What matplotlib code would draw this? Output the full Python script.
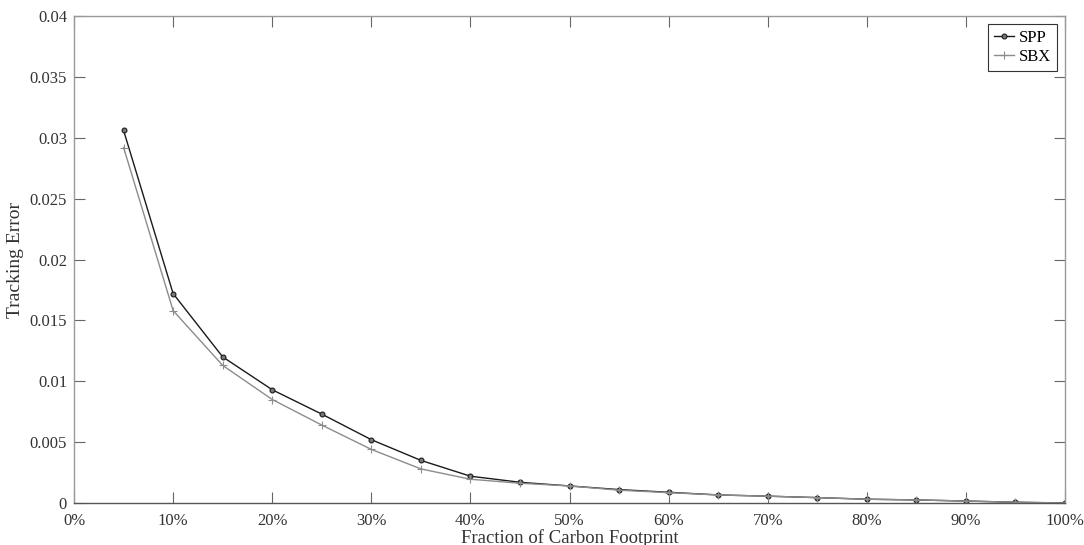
import matplotlib
matplotlib.use('Agg')
import matplotlib.pyplot as plt
from matplotlib.ticker import FuncFormatter

plt.rcParams['font.family'] = ['Liberation Serif', 'DejaVu Serif']

fraction = [0.05, 0.10, 0.15, 0.20, 0.25, 0.30, 0.35, 0.40, 0.45, 0.50,
            0.55, 0.60, 0.65, 0.70, 0.75, 0.80, 0.85, 0.90, 0.95, 1.00]
spp = [0.0306, 0.0172, 0.0120, 0.0093, 0.0073, 0.0052, 0.0035, 0.0022, 0.0017, 0.0014,
       0.0011, 0.00088, 0.00066, 0.00056, 0.00044, 0.00031, 0.00025, 0.00016, 0.00006, 0.0]
sbx = [0.0292, 0.0158, 0.0113, 0.0085, 0.0064, 0.0044, 0.0028, 0.00195, 0.00162, 0.0014,
       0.00105, 0.00085, 0.00066, 0.00056, 0.00044, 0.00031, 0.00025, 0.00016, 0.00006, 0.0]
y_ticks = [0, 0.005, 0.01, 0.015, 0.02, 0.025, 0.03, 0.035, 0.04]
x_ticks = [0, 0.1, 0.2, 0.3, 0.4, 0.5, 0.6, 0.7, 0.8, 0.9, 1.0]

fig = plt.figure(figsize=(10.84, 5.45), dpi=100)
ax = fig.add_axes([0.0683, 0.0771, 0.9142, 0.8935])

ax.plot(fraction, spp, color='#1a1a1a', lw=1.0, marker='o', ms=3.5,
        mfc='#777777', mec='#1a1a1a', mew=0.8, label='SPP')
ax.plot(fraction, sbx, color='#8c8c8c', lw=1.0, marker='+', ms=6,
        mec='#8c8c8c', mew=0.8, label='SBX')

ax.set_xlim(0, 1)
ax.set_ylim(0, 0.04)
ax.set_xticks(x_ticks)
ax.set_yticks(y_ticks)
ax.xaxis.set_major_formatter(FuncFormatter(lambda v, p: f'{v*100:.0f}%'))
ax.yaxis.set_major_formatter(FuncFormatter(lambda v, p: f'{v:g}'))
ax.tick_params(direction='in', length=8, width=0.8, color='#666666',
               top=True, right=True, labelsize=12, labelcolor='#333333')
ax.tick_params(axis='x', pad=7)
ax.tick_params(axis='y', pad=5)

for side in ['left', 'top', 'right']:
    ax.spines[side].set_color('#999999')
ax.spines['bottom'].set_color('#555555')
for s in ax.spines.values():
    s.set_linewidth(1.0)

ax.set_xlabel('Fraction of Carbon Footprint', fontsize=13.5, labelpad=0, color='#333333')
ax.set_ylabel('Tracking Error', fontsize=14, labelpad=4, color='#333333')

leg = ax.legend(loc='upper right', fontsize=12, fancybox=False, framealpha=1,
                edgecolor='#333333', handlelength=1.2, borderaxespad=0.5,
                handletextpad=0.3, borderpad=0.35, labelspacing=0.15)
leg.get_frame().set_linewidth(0.8)

plt.savefig('out.png', dpi=100)
